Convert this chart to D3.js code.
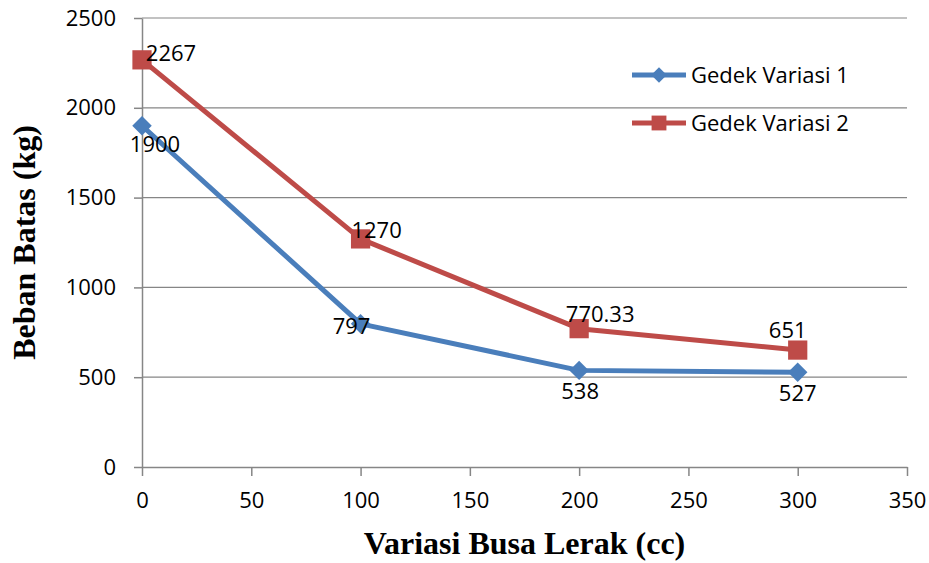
<!DOCTYPE html>
<html>
<head>
<meta charset="utf-8">
<script src="https://cdn.jsdelivr.net/npm/d3@7"></script>
<style>
  body { margin: 0; background: #fff; }
  svg { display: block; }
</style>
</head>
<body>
<div id="chart"></div>
<script>
// chart values
const xValues = [0, 100, 200, 300];
const series1 = [1900, 797, 538, 527];
const series2 = [2267, 1270, 770.33, 651];
const seriesNames = ['Gedek Variasi 1', 'Gedek Variasi 2'];
const xTicks = [0, 50, 100, 150, 200, 250, 300, 350];
const yTicks = [0, 500, 1000, 1500, 2000, 2500];
const xTitle = 'Variasi Busa Lerak (cc)';
const yTitle = 'Beban Batas (kg)';

const width = 929, height = 563;
const margin = { left: 142, right: 22, top: 18, bottom: 96 };
const blue = '#4a7ebb', red = '#be4b48', grid = '#868686';
const tickFont = '"Open Sans", sans-serif';
const fontSize = 22;

const svg = d3.select('#chart').append('svg')
  .attr('width', width)
  .attr('height', height);

const x = d3.scaleLinear().domain([0, 350]).range([margin.left, width - margin.right]);
const y = d3.scaleLinear().domain([0, 2500]).range([height - margin.bottom, margin.top]);

// horizontal gridlines
svg.append('g').selectAll('line')
  .data(yTicks.filter(d => d > 0))
  .enter().append('line')
  .attr('x1', x(0)).attr('x2', x(350))
  .attr('y1', d => y(d)).attr('y2', d => y(d))
  .attr('stroke', grid).attr('stroke-width', 1.2);

// axes
const xAxis = svg.append('g')
  .attr('transform', `translate(0,${y(0)})`)
  .call(d3.axisBottom(x).tickValues(xTicks).tickFormat(d3.format('d'))
    .tickSize(9).tickSizeOuter(0).tickPadding(16));
const yAxis = svg.append('g')
  .attr('transform', `translate(${x(0)},0)`)
  .call(d3.axisLeft(y).tickValues(yTicks).tickFormat(d3.format('d'))
    .tickSize(8).tickSizeOuter(0).tickPadding(18));

[xAxis, yAxis].forEach(a => {
  a.select('.domain').attr('stroke', grid).attr('stroke-width', 1.5);
  a.selectAll('.tick line').attr('stroke', grid).attr('stroke-width', 1.5);
  a.selectAll('.tick text')
    .attr('fill', '#000')
    .attr('font-family', tickFont)
    .attr('font-size', fontSize);
});

// axis titles
svg.append('text')
  .attr('x', (x(0) + x(350)) / 2)
  .attr('y', 554)
  .attr('text-anchor', 'middle')
  .attr('font-family', '"Liberation Serif", "Times New Roman", serif')
  .attr('font-weight', 'bold')
  .attr('font-size', 32)
  .text(xTitle);

svg.append('text')
  .attr('transform', `translate(35,${(y(0) + y(2500)) / 2}) rotate(-90)`)
  .attr('text-anchor', 'middle')
  .attr('font-family', '"Liberation Serif", "Times New Roman", serif')
  .attr('font-weight', 'bold')
  .attr('font-size', 32)
  .text(yTitle);

const line = d3.line().x(d => x(d[0])).y(d => y(d[1]));
const pts1 = xValues.map((v, i) => [v, series1[i]]);
const pts2 = xValues.map((v, i) => [v, series2[i]]);

const diamond = {
  draw(ctx, size) {
    const r = Math.sqrt(size) / 2;
    ctx.moveTo(0, -r); ctx.lineTo(r, 0); ctx.lineTo(0, r); ctx.lineTo(-r, 0); ctx.closePath();
  }
};

function drawSeries(pts, color, symbol, size) {
  const g = svg.append('g');
  g.append('path')
    .datum(pts)
    .attr('d', line)
    .attr('fill', 'none')
    .attr('stroke', color)
    .attr('stroke-width', 5)
    .attr('stroke-linejoin', 'round');
  g.selectAll('path.marker')
    .data(pts)
    .enter().append('path')
    .attr('class', 'marker')
    .attr('transform', d => `translate(${x(d[0])},${y(d[1])})`)
    .attr('d', d3.symbol().type(symbol).size(size))
    .attr('fill', color);
}

drawSeries(pts1, blue, diamond, 380);
drawSeries(pts2, red, d3.symbolSquare, 370);

// data labels (offsets from point, in px)
const labelOffsets1 = [[13, 19], [-9, 2], [1, 21], [0, 21]];
const labelOffsets2 = [[29, -7], [16, -9], [21, -14], [-10, -20]];

function drawLabels(pts, offsets) {
  svg.append('g').selectAll('text')
    .data(pts)
    .enter().append('text')
    .attr('x', (d, i) => x(d[0]) + offsets[i][0])
    .attr('y', (d, i) => y(d[1]) + offsets[i][1])
    .attr('dy', '0.35em')
    .attr('text-anchor', 'middle')
    .attr('font-family', tickFont)
    .attr('font-size', fontSize)
    .text(d => d[1]);
}
drawLabels(pts1, labelOffsets1);
drawLabels(pts2, labelOffsets2);

// legend
const legend = svg.append('g');
const legendItems = [
  { name: seriesNames[0], color: blue, symbol: diamond, size: 240, y: 75 },
  { name: seriesNames[1], color: red, symbol: d3.symbolSquare, size: 220, y: 123 }
];
legendItems.forEach(it => {
  legend.append('line')
    .attr('x1', 632).attr('x2', 686)
    .attr('y1', it.y).attr('y2', it.y)
    .attr('stroke', it.color).attr('stroke-width', 5);
  legend.append('path')
    .attr('transform', `translate(659,${it.y})`)
    .attr('d', d3.symbol().type(it.symbol).size(it.size))
    .attr('fill', it.color);
  legend.append('text')
    .attr('x', 691).attr('y', it.y)
    .attr('dy', '0.35em')
    .attr('font-family', tickFont)
    .attr('font-size', fontSize)
    .text(it.name);
});
</script>
</body>
</html>
